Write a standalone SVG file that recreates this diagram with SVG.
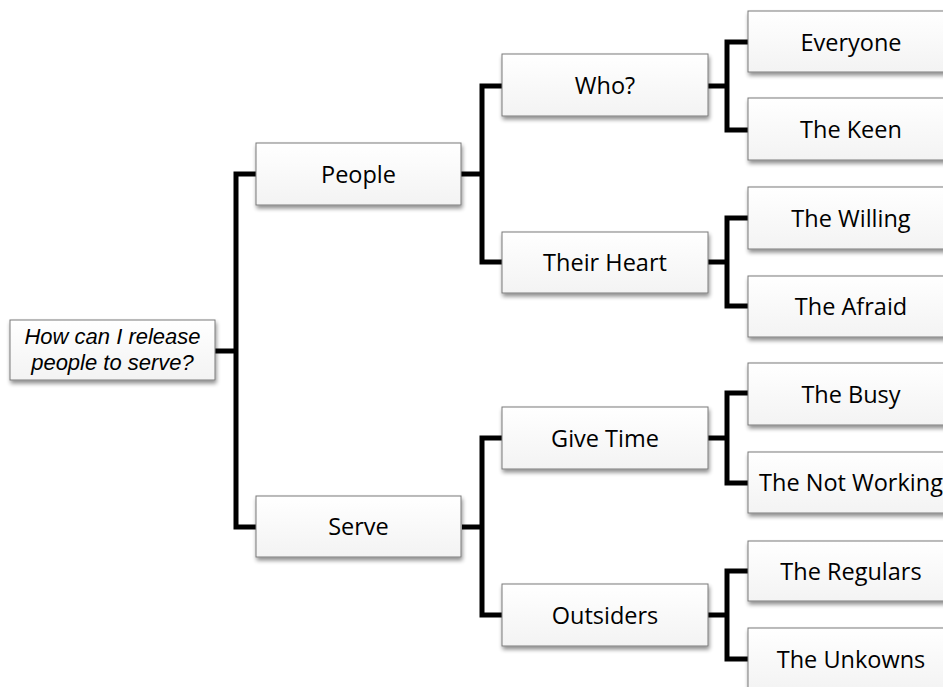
<svg xmlns="http://www.w3.org/2000/svg" width="943" height="687" viewBox="0 0 943 687">
<defs>
<linearGradient id="g" x1="0" y1="0" x2="0" y2="1">
<stop offset="0" stop-color="#ffffff"/>
<stop offset="1" stop-color="#f3f3f3"/>
</linearGradient>
<filter id="sh" x="-10%" y="-10%" width="125%" height="140%">
<feGaussianBlur in="SourceAlpha" stdDeviation="2"/>
<feOffset dx="1" dy="3" result="b"/>
<feComponentTransfer><feFuncA type="linear" slope="0.45"/></feComponentTransfer>
<feMerge><feMergeNode/><feMergeNode in="SourceGraphic"/></feMerge>
</filter>
</defs>
<style>
.box{fill:url(#g);stroke:#7a7a7a;stroke-width:1;filter:url(#sh)}
.t{font-family:"Open Sans","Liberation Sans",sans-serif;font-size:23.5px;fill:#000;text-anchor:middle}
.it{font-family:"Liberation Sans","Open Sans",sans-serif;font-style:italic;font-size:22px}
.c{fill:none;stroke:#000;stroke-width:5;stroke-linejoin:miter;stroke-linecap:butt}
</style>
<rect width="943" height="687" fill="#fff"/>
<g id="connectors">
<path class="c" d="M215 351H236"/>
<path class="c" d="M256 174H236V527H256"/>
<path class="c" d="M460 174H482"/>
<path class="c" d="M502 86H482V262H502"/>
<path class="c" d="M462 527H482"/>
<path class="c" d="M502 438H482V615H502"/>
<path class="c" d="M708 86H727"/>
<path class="c" d="M748 42H727V130H748"/>
<path class="c" d="M708 262H727"/>
<path class="c" d="M748 218H727V306H748"/>
<path class="c" d="M708 438H727"/>
<path class="c" d="M748 393H727V483H748"/>
<path class="c" d="M708 615H727"/>
<path class="c" d="M748 571H727V659H748"/>
</g>
<g id="root"><rect class="box" x="10" y="320" width="205" height="60"/><text class="t it" x="112.5" y="344">How can I release</text><text class="t it" x="112.5" y="369.5">people to serve?</text></g>
<g id="people"><rect class="box" x="256" y="143" width="205" height="62"/><text class="t" x="358.5" y="182.5">People</text></g>
<g id="serve"><rect class="box" x="256" y="496" width="205" height="61"/><text class="t" x="358.5" y="535">Serve</text></g>
<g id="who"><rect class="box" x="502" y="54" width="206" height="62"/><text class="t" x="605" y="93.5">Who?</text></g>
<g id="their-heart"><rect class="box" x="502" y="232" width="206" height="61"/><text class="t" x="605" y="270.5">Their Heart</text></g>
<g id="give-time"><rect class="box" x="502" y="407" width="206" height="62"/><text class="t" x="605" y="446.5">Give Time</text></g>
<g id="outsiders"><rect class="box" x="502" y="584" width="206" height="62"/><text class="t" x="605" y="623.5">Outsiders</text></g>
<g id="everyone"><rect class="box" x="748" y="11" width="206" height="61"/><text class="t" x="851" y="50.5">Everyone</text></g>
<g id="the-keen"><rect class="box" x="748" y="98" width="206" height="62"/><text class="t" x="851" y="138">The Keen</text></g>
<g id="the-willing"><rect class="box" x="748" y="187" width="206" height="62"/><text class="t" x="851" y="226.5">The Willing</text></g>
<g id="the-afraid"><rect class="box" x="748" y="276" width="206" height="61"/><text class="t" x="851" y="314.5">The Afraid</text></g>
<g id="the-busy"><rect class="box" x="748" y="363" width="206" height="62"/><text class="t" x="851" y="402.5">The Busy</text></g>
<g id="the-not-working"><rect class="box" x="748" y="452" width="206" height="61"/><text class="t" x="851" y="491">The Not Working</text></g>
<g id="the-regulars"><rect class="box" x="748" y="541" width="206" height="60"/><text class="t" x="851" y="579.5">The Regulars</text></g>
<g id="the-unkowns"><rect class="box" x="748" y="628" width="206" height="62"/><text class="t" x="851" y="667.5">The Unkowns</text></g>
</svg>
